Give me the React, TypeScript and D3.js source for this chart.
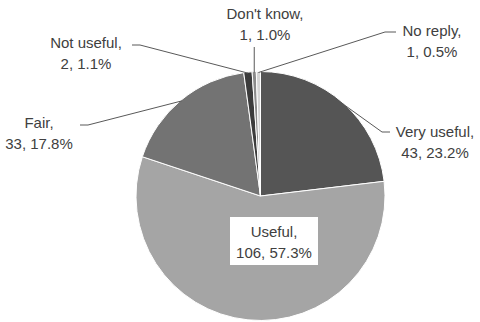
import React from "react";
import * as d3 from "d3";

const categories = ["Very useful", "Useful", "Fair", "Not useful", "Don't know", "No reply"];
const counts = [43, 106, 33, 2, 1, 1];
const percentLabels = ["23.2%", "57.3%", "17.8%", "1.1%", "1.0%", "0.5%"];
const colors = ["#555555", "#a5a5a5", "#737373", "#3c3c3c", "#8c8c8c", "#d6d6d6"];

// label layout: text center x, first-line center y, leader elbow/end points (null = compute)
const labelLayout = [
  { x: 435, y: 131, leader: [[382, 132], [390, 132]], box: false },
  { x: 274, y: 231, leader: [], box: true },
  { x: 39, y: 122, leader: [[88, 125], [80, 125]], box: false },
  { x: 86, y: 42, leader: [[140, 45], [132, 45]], box: false },
  { x: 265, y: 13, leader: [["v", 47]], box: false },
  { x: 432, y: 30, leader: [[385, 32], [396, 32]], box: false },
];

const W = 480, H = 322;
const cx = 260.5, cy = 196, R = 124.5;

export default function App() {
  const pie = d3.pie<number>().sort(null).startAngle(0).endAngle(2 * Math.PI);
  const arcs = pie(counts);
  const arc = d3.arc<d3.PieArcDatum<number>>().innerRadius(0).outerRadius(R);
  const edge = (a: d3.PieArcDatum<number>, r: number) => {
    const m = (a.startAngle + a.endAngle) / 2;
    return [cx + r * Math.sin(m), cy - r * Math.cos(m)];
  };
  const font = "'Liberation Sans', Arial, sans-serif";
  return (
    <svg width={W} height={H} style={{ position: "absolute", left: 0, top: 0, background: "#fff" }}>
      <g transform={`translate(${cx},${cy})`}>
        {arcs.map((a, i) => (
          <path key={i} d={arc(a) || ""} fill={colors[i]} stroke="#fff" strokeWidth={1} />
        ))}
      </g>
      {arcs.map((a, i) => {
        const L = labelLayout[i];
        if (!L.leader.length) return null;
        const p0 = edge(a, R - 1);
        const pts: number[][] = [p0];
        L.leader.forEach((p: any) => {
          if (p[0] === "v") pts.push([p0[0], p[1]]);
          else pts.push(p);
        });
        return (
          <polyline key={"l" + i} points={pts.map((p) => p.join(",")).join(" ")} fill="none" stroke="#595959" strokeWidth={1} />
        );
      })}
      {categories.map((c, i) => {
        const L = labelLayout[i];
        return (
          <g key={"t" + i}>
            {L.box && <rect x={230} y={217} width={88} height={48} fill="#fff" />}
            <text x={L.x} y={L.y} textAnchor="middle" dominantBaseline="central" fontFamily={font} fontSize={15} fill="#404040">
              {c + ","}
            </text>
            <text x={L.x} y={L.y + 21} textAnchor="middle" dominantBaseline="central" fontFamily={font} fontSize={15} fill="#404040">
              {`${counts[i]}, ${percentLabels[i]}`}
            </text>
          </g>
        );
      })}
    </svg>
  );
}
